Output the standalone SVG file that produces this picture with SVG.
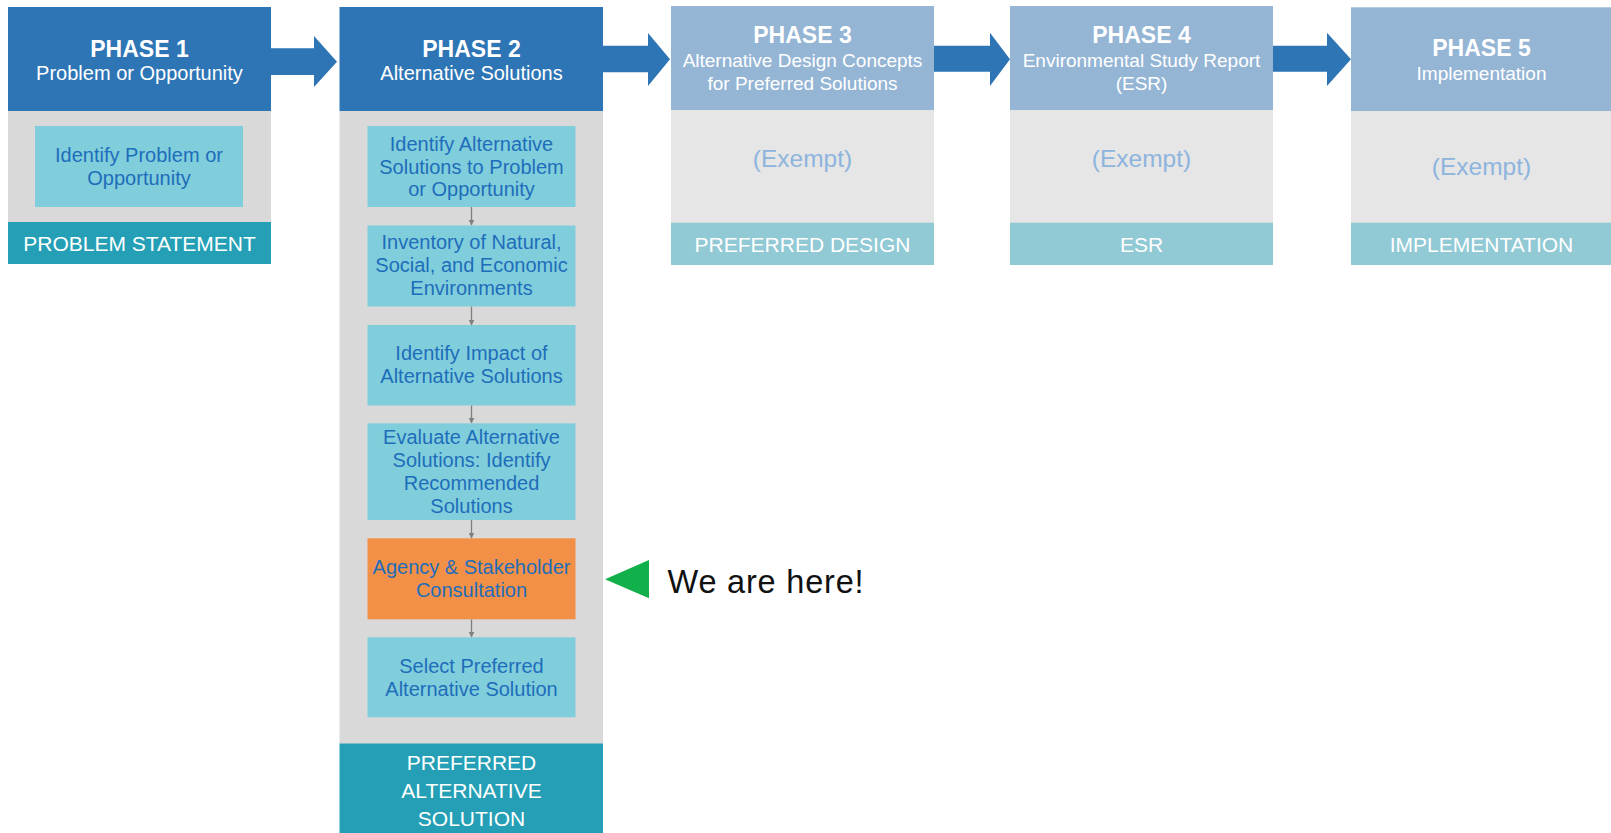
<svg xmlns="http://www.w3.org/2000/svg" width="1611" height="833" viewBox="0 0 1611 833">
<defs>
<style>
text{font-family:"Liberation Sans",Arial,sans-serif;text-anchor:middle}
.hdr{fill:#2E75B6}
.hdrl{fill:#95B5D5}
.body{fill:#D9D9D9}
.bodyl{fill:#E6E6E6}
.box{fill:#80CEDC}
.orange{fill:#F39047}
.band{fill:#249FB6}
.bandl{fill:#91C9D5}
.big{fill:#2E75B6}
.ph{font-weight:bold;font-size:23px;fill:#fff}
.sub{font-size:20px;fill:#fff}
.subs{font-size:19px;fill:#fff}
.bt{font-size:20px;fill:#1E6DBA}
.bandt{font-size:21px;fill:#fff}
.ex{font-size:24.5px;fill:#8DB4DD}
.sm{stroke:#7F7F7F;stroke-width:1.3;fill:none}
</style>
<marker id="ah" viewBox="0 0 10 10" refX="9" refY="5" markerWidth="6" markerHeight="6" orient="auto" markerUnits="userSpaceOnUse">
<path d="M0,0 L10,5 L0,10 z" fill="#7F7F7F"/>
</marker>
</defs>
<rect width="1611" height="833" fill="#fff"/>

<g id="phase1">
<rect class="hdr" x="8" y="7" width="263" height="104"/>
<text class="ph" x="139.5" y="56.7">PHASE 1</text>
<text class="sub" x="139.5" y="80">Problem or Opportunity</text>
<rect class="body" x="8" y="111" width="263" height="111"/>
<rect class="box" x="35" y="126" width="208" height="81"/>
<text class="bt" x="139" y="162">Identify Problem or</text>
<text class="bt" x="139" y="185">Opportunity</text>
<rect class="band" x="8" y="222" width="263" height="42"/>
<text class="bandt" x="139.5" y="250.7">PROBLEM STATEMENT</text>
</g>

<g id="phase2">
<rect class="hdr" x="339.5" y="7" width="263.5" height="104"/>
<text class="ph" x="471.5" y="56.7">PHASE 2</text>
<text class="sub" x="471.5" y="80">Alternative Solutions</text>
<rect class="body" x="339.5" y="111" width="263.5" height="633"/>
<rect class="band" x="339.5" y="743.5" width="263.5" height="89.5"/>
<text class="bandt" x="471.5" y="770">PREFERRED</text>
<text class="bandt" x="471.5" y="798.3">ALTERNATIVE</text>
<text class="bandt" x="471.5" y="826">SOLUTION</text>
</g>

<g id="step1">
<rect class="box" x="367.5" y="126" width="208" height="81"/>
<text class="bt" x="471.5" y="150.7">Identify Alternative</text>
<text class="bt" x="471.5" y="173.5">Solutions to Problem</text>
<text class="bt" x="471.5" y="196.3">or Opportunity</text>
</g>
<g id="step2">
<rect class="box" x="367.5" y="225.5" width="208" height="81"/>
<text class="bt" x="471.5" y="249.3">Inventory of Natural,</text>
<text class="bt" x="471.5" y="272.3">Social, and Economic</text>
<text class="bt" x="471.5" y="295.3">Environments</text>
</g>
<g id="step3">
<rect class="box" x="367.5" y="325" width="208" height="80.5"/>
<text class="bt" x="471.5" y="360">Identify Impact of</text>
<text class="bt" x="471.5" y="383">Alternative Solutions</text>
</g>
<g id="step4">
<rect class="box" x="367.5" y="423.3" width="208" height="96.7"/>
<text class="bt" x="471.5" y="443.5">Evaluate Alternative</text>
<text class="bt" x="471.5" y="466.5">Solutions: Identify</text>
<text class="bt" x="471.5" y="489.5">Recommended</text>
<text class="bt" x="471.5" y="512.5">Solutions</text>
</g>
<g id="step5">
<rect class="orange" x="367.5" y="538.3" width="208" height="81"/>
<text class="bt" x="471.5" y="574">Agency &amp; Stakeholder</text>
<text class="bt" x="471.5" y="597">Consultation</text>
</g>
<g id="step6">
<rect class="box" x="367.5" y="637.3" width="208" height="80"/>
<text class="bt" x="471.5" y="673.3">Select Preferred</text>
<text class="bt" x="471.5" y="696.3">Alternative Solution</text>
</g>

<g id="phase3">
<rect class="hdrl" x="671" y="6" width="263" height="104"/>
<text class="ph" x="802.5" y="42.7">PHASE 3</text>
<text class="subs" x="802.5" y="66.7">Alternative Design Concepts</text>
<text class="subs" x="802.5" y="89.5">for Preferred Solutions</text>
<rect class="bodyl" x="671" y="110" width="263" height="113"/>
<text class="ex" x="802.5" y="167">(Exempt)</text>
<rect class="bandl" x="671" y="222.7" width="263" height="42.3"/>
<text class="bandt" x="802.5" y="251.7">PREFERRED DESIGN</text>
</g>

<g id="phase4">
<rect class="hdrl" x="1010" y="6" width="263" height="104"/>
<text class="ph" x="1141.5" y="42.7">PHASE 4</text>
<text class="subs" x="1141.5" y="66.7">Environmental Study Report</text>
<text class="subs" x="1141.5" y="89.5">(ESR)</text>
<rect class="bodyl" x="1010" y="110" width="263" height="113"/>
<text class="ex" x="1141.5" y="167">(Exempt)</text>
<rect class="bandl" x="1010" y="222.7" width="263" height="42.3"/>
<text class="bandt" x="1141.5" y="251.7">ESR</text>
</g>

<g id="phase5">
<rect class="hdrl" x="1351" y="7.3" width="260" height="103.7"/>
<text class="ph" x="1481.5" y="56">PHASE 5</text>
<text class="subs" x="1481.5" y="80">Implementation</text>
<rect class="bodyl" x="1351" y="111" width="260" height="112"/>
<text class="ex" x="1481.5" y="175">(Exempt)</text>
<rect class="bandl" x="1351" y="222.7" width="260" height="42.3"/>
<text class="bandt" x="1481.5" y="251.7">IMPLEMENTATION</text>
</g>

<g id="connectors">
<polygon class="big" points="271,48.3 314,48.3 314,36 337,61.7 314,87 314,75 271,75"/>
<polygon class="big" points="603,45.7 648,45.7 648,33 670,59.3 648,86 648,72.3 603,72.3"/>
<polygon class="big" points="934,45.7 990,45.7 990,32.7 1010,59.3 990,86 990,71.7 934,71.7"/>
<polygon class="big" points="1273,45.7 1327,45.7 1327,32.7 1351,59.3 1327,86 1327,71.7 1273,71.7"/>
<line class="sm" x1="471.5" y1="207" x2="471.5" y2="225" marker-end="url(#ah)"/>
<line class="sm" x1="471.5" y1="306.5" x2="471.5" y2="325" marker-end="url(#ah)"/>
<line class="sm" x1="471.5" y1="405.5" x2="471.5" y2="423" marker-end="url(#ah)"/>
<line class="sm" x1="471.5" y1="520" x2="471.5" y2="538" marker-end="url(#ah)"/>
<line class="sm" x1="471.5" y1="619.5" x2="471.5" y2="637" marker-end="url(#ah)"/>
</g>

<g id="marker-here">
<polygon points="605,579.3 649,560 649,598.3" fill="#12B04B"/>
<text x="667.5" y="593.3" style="text-anchor:start;font-size:32.5px;letter-spacing:0.8px;fill:#111">We are here!</text>
</g>
</svg>
